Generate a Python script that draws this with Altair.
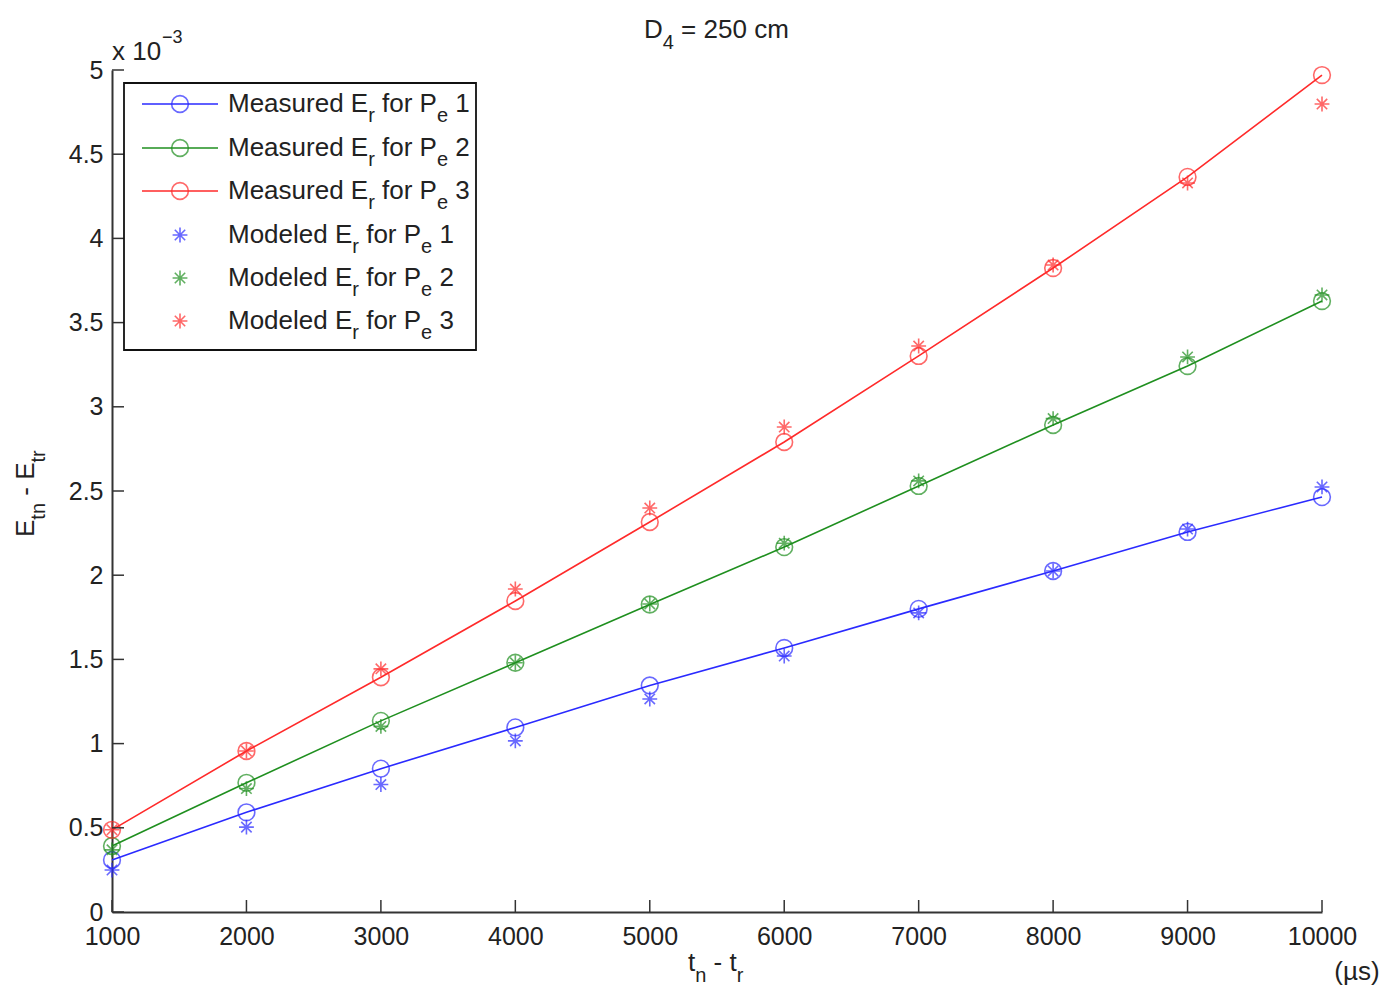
import altair as alt
import pandas as pd

# ---------------- data (values in units of 1e-3) ----------------
x_vals = [1000, 2000, 3000, 4000, 5000, 6000, 7000, 8000, 9000, 10000]
meas1 = [0.309, 0.592, 0.851, 1.096, 1.345, 1.568, 1.800, 2.025, 2.257, 2.464]
mod1 = [0.249, 0.504, 0.757, 1.016, 1.265, 1.520, 1.776, 2.025, 2.274, 2.524]
meas2 = [0.392, 0.767, 1.135, 1.480, 1.826, 2.167, 2.530, 2.892, 3.242, 3.628]
mod2 = [0.369, 0.733, 1.102, 1.480, 1.829, 2.190, 2.560, 2.930, 3.296, 3.664]
meas3 = [0.488, 0.956, 1.394, 1.847, 2.316, 2.791, 3.302, 3.824, 4.365, 4.970]
mod3 = [0.488, 0.956, 1.444, 1.918, 2.399, 2.880, 3.361, 3.842, 4.329, 4.798]

series = ["1", "2", "3"]
colors = ["#2a2aff", "#1f8f1f", "#ff2a2a"]
x_ticks = [1000, 2000, 3000, 4000, 5000, 6000, 7000, 8000, 9000, 10000]
y_ticks = [0, 0.5, 1, 1.5, 2, 2.5, 3, 3.5, 4, 4.5, 5]

FONT = "Liberation Sans"
AX = "#333333"
TXT = "#222222"
W, H = 1210, 842

rows_m, rows_s = [], []
for s, m, d in zip(series, [meas1, meas2, meas3], [mod1, mod2, mod3]):
    for xv, mv, dv in zip(x_vals, m, d):
        rows_m.append({"x": xv, "y": mv, "series": s})
        rows_s.append({"x": xv, "y": dv, "series": s})
meas_df = pd.DataFrame(rows_m)
mod_df = pd.DataFrame(rows_s)

STAR = "M-1,0L1,0M0,-1L0,1M-0.7,-0.7L0.7,0.7M-0.7,0.7L0.7,-0.7"

color = alt.Color("series:N", scale=alt.Scale(domain=series, range=colors), legend=None)
xenc = alt.X("x:Q", scale=alt.Scale(domain=[1000, 10000], nice=False, zero=False),
             axis=alt.Axis(values=x_ticks, format="d", title=None, ticks=False, grid=False,
                           labelPadding=12, labelFontSize=25, labelFont=FONT, labelColor=TXT,
                           domainColor=AX, domainWidth=2, labelFlush=False))
yenc = alt.Y("y:Q", scale=alt.Scale(domain=[0, 5], nice=False, zero=True),
             axis=alt.Axis(values=y_ticks, format="~g", title=None, ticks=False, grid=False,
                           labelPadding=9, labelFontSize=25, labelFont=FONT, labelColor=TXT,
                           domainColor=AX, domainWidth=2, labelFlush=False))

lines = alt.Chart(meas_df).mark_line(strokeWidth=1.6).encode(x=xenc, y=yenc, color=color)
circles = alt.Chart(meas_df).mark_point(shape="circle", filled=False, size=280, strokeWidth=1.6).encode(
    x="x:Q", y="y:Q", color=color)
stars = alt.Chart(mod_df).mark_point(shape=STAR, filled=False, size=220, strokeWidth=1.6).encode(
    x="x:Q", y="y:Q", color=color)

xt = alt.Chart(pd.DataFrame({"x": x_ticks})).mark_rule(color=AX, strokeWidth=1.5).encode(
    x="x:Q", y=alt.value(H), y2=alt.value(H - 12))
yt = alt.Chart(pd.DataFrame({"y": y_ticks})).mark_rule(color=AX, strokeWidth=1.5).encode(
    y="y:Q", x=alt.value(0), x2=alt.value(12))

dummy = pd.DataFrame({"a": [0]})

CW = {' ': 278, 'M': 833, 'e': 556, 'a': 556, 's': 500, 'u': 556, 'r': 333, 'd': 556, 'E': 667,
      'f': 278, 'o': 556, 'P': 667, 'l': 222, 'D': 722, 't': 278, 'n': 556, '-': 333, '=': 584,
      'c': 500, 'm': 833, 'x': 500}


def tw(s, size):
    return sum(CW.get(c, 556) for c in s) * size / 1000.0


def txt(s, x, y, size=26, angle=0, align="left", baseline="middle"):
    return alt.Chart(dummy).mark_text(text=s, fontSize=size, font=FONT, align=align,
                                      baseline=baseline, angle=angle, color=TXT).encode(
        x=alt.value(x), y=alt.value(y))


def sub_run(pieces, x0, y0, main=26, sub=20, dy=12, angle=0):
    """pieces: list of (text, is_sub). Horizontal or rotated (270) run.
    Leading/trailing spaces are converted into offsets (SVG collapses them)."""
    out = []
    pos = 0.0
    for t, is_sub in pieces:
        size = sub if is_sub else main
        lead = len(t) - len(t.lstrip(" "))
        trail = len(t) - len(t.rstrip(" "))
        core = t.strip(" ")
        pos += tw(" " * lead, size)
        if angle == 0:
            out.append(txt(core, x0 + pos, y0 + (dy if is_sub else 0), size))
        else:
            out.append(txt(core, x0 + (dy if is_sub else 0), y0 - pos, size, angle=270))
        pos += tw(core, size) + tw(" " * trail, size)
    return out


layers = [lines, circles, stars, xt, yt]

# legend box
layers.append(alt.Chart(dummy).mark_rect(fill="white", stroke="#111111", strokeWidth=1.8).encode(
    x=alt.value(12), x2=alt.value(364), y=alt.value(13), y2=alt.value(280)))

row_y = [34, 78, 121, 165, 208, 251]
for i, (s, c) in enumerate(zip(series, colors)):
    yy = row_y[i]
    layers.append(alt.Chart(dummy).mark_rule(color=c, strokeWidth=1.6).encode(
        x=alt.value(30), x2=alt.value(106), y=alt.value(yy)))
    layers.append(alt.Chart(dummy).mark_point(shape="circle", filled=False, size=280,
                                              strokeWidth=1.6, color=c).encode(
        x=alt.value(68), y=alt.value(yy)))
    layers += sub_run([("Measured E", False), ("r", True), (" for P", False), ("e", True),
                       (" " + s, False)], 116, yy)
for i, (s, c) in enumerate(zip(series, colors)):
    yy = row_y[3 + i]
    layers.append(alt.Chart(dummy).mark_point(shape=STAR, filled=False, size=220,
                                              strokeWidth=1.6, color=c).encode(
        x=alt.value(68), y=alt.value(yy)))
    layers += sub_run([("Modeled E", False), ("r", True), (" for P", False), ("e", True),
                       (" " + s, False)], 116, yy)

# title, exponent, axis titles
layers += sub_run([("D", False), ("4", True), (" = 250 cm", False)], 532, -40, dy=13)
layers.append(txt("x 10", 0, -18, 26))
layers.append(txt("\u22123", 50, -32, 18))
layers += sub_run([("t", False), ("n", True), (" - ", False), ("t", False), ("r", True)],
                  576, 893, dy=13)
layers.append(txt("(\u00b5s)", 1245, 902, 26, align="center"))
layers += sub_run([("E", False), ("tn", True), (" - ", False), ("E", False), ("tr", True)],
                  -86, 467, dy=13, angle=270)

chart = alt.layer(*layers).properties(
    width=W, height=H,
    autosize=alt.AutoSizeParams(type="none"),
    padding={"left": 104, "top": 62, "right": 66, "bottom": 80},
    background="white",
).configure_view(stroke=None)

chart.save("out.html", embed_options={"renderer": "svg", "actions": False})
